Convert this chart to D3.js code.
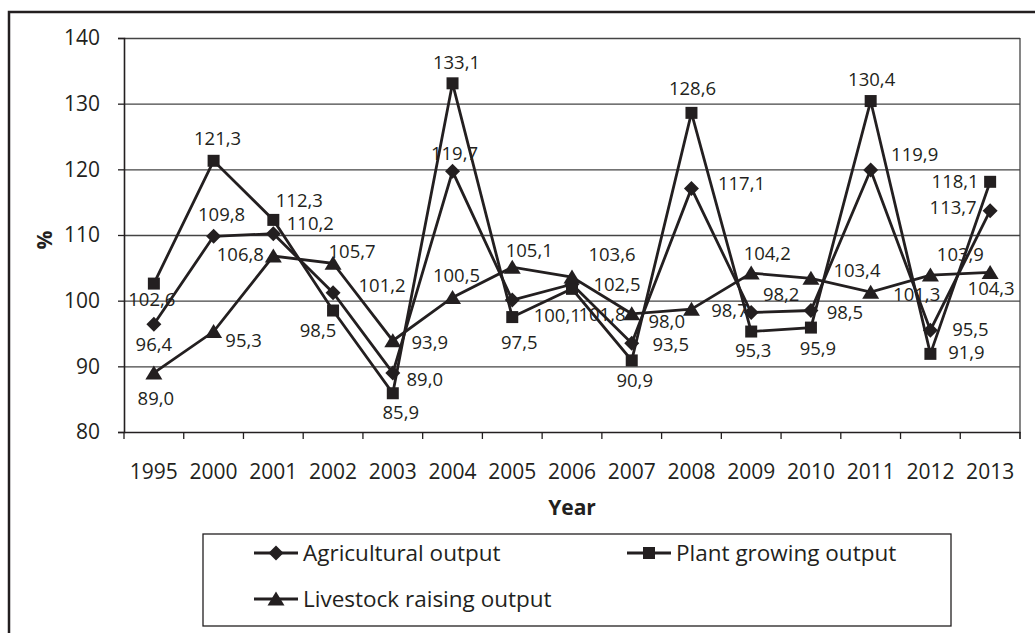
<!DOCTYPE html>
<html><head><meta charset="utf-8">
<script src="https://cdn.jsdelivr.net/npm/d3@7"></script>
<style>
body{margin:0;background:#fff;}
svg text{font-family:"Open Sans",sans-serif;fill:#231f20;}
</style></head><body>
<svg id="chart" width="1035" height="633"></svg>
<script>
// ---- data ----
const years = ["1995","2000","2001","2002","2003","2004","2005","2006","2007","2008","2009","2010","2011","2012","2013"];
const agricultural = [96.4,109.8,110.2,101.2,89.0,119.7,100.1,102.5,93.5,117.1,98.2,98.5,119.9,95.5,113.7];
const plantGrowing = [102.6,121.3,112.3,98.5,85.9,133.1,97.5,101.8,90.9,128.6,95.3,95.9,130.4,91.9,118.1];
const livestock = [89.0,95.3,106.8,105.7,93.9,100.5,105.1,103.6,98.0,98.7,104.2,103.4,101.3,103.9,104.3];
const yTicks = [80,90,100,110,120,130,140];
const seriesNames = ["Agricultural output","Plant growing output","Livestock raising output"];

// ---- label placement (offset of label centre from its point) ----
const agriLabelPos = [[0,20],[8,-22],[37,-10],[49,-7],[32,6],[2,-18],[45,15],[45,0],[39,1],[50,-5],[30,-18],[34,2],[44,-16],[40,-1],[-37,-3]];
const plantLabelPos = [[-2,16],[4,-22],[26,-19],[-15,20],[8,19],[4,-21],[7,25],[30,26],[3,20],[1,-24],[2,19],[7,21],[1,-22],[36,-1],[-35,0]];
const liveLabelPos = [[2,25],[30,9],[-33,-2],[19,-12],[37,2],[4,-22],[17,-17],[40,-23],[35,8],[38,1],[16,-20],[46,-8],[46,2],[30,-21],[1,16]];

const ink = "#231f20";
const svg = d3.select("#chart");

// outer frame
svg.append("rect").attr("x",9).attr("y",12).attr("width",1040).attr("height",640)
  .attr("fill","none").attr("stroke",ink).attr("stroke-width",2.5);

const x = d3.scaleBand().domain(years).range([124,1020]);
const y = d3.scaleLinear().domain([80,140]).range([432,38]);

// gridlines
svg.append("g").attr("transform","translate(124,0)")
  .call(d3.axisLeft(y).tickValues(yTicks.slice(1)).tickSize(-(1020-124)).tickFormat(""))
  .call(g=>g.select(".domain").remove())
  .call(g=>g.selectAll("line").attr("stroke","#444").attr("stroke-width",1.3));

// right border of plot area
svg.append("line").attr("x1",x.range()[1]).attr("x2",x.range()[1]).attr("y1",y(140)).attr("y2",y(80)+7)
  .attr("stroke","#444").attr("stroke-width",1.3);

// y axis
svg.append("g").attr("transform","translate(124,0)")
  .call(d3.axisLeft(y).tickValues(yTicks).tickSize(6).tickPadding(18).tickFormat(d=>d))
  .call(g=>g.select(".domain").attr("stroke",ink).attr("stroke-width",1.6))
  .call(g=>g.selectAll("line").attr("stroke",ink).attr("stroke-width",1.3))
  .call(g=>g.selectAll("text").style("font-size","21px").attr("fill",ink));

// x axis
svg.append("g").attr("transform",`translate(0,${y(80)})`)
  .call(d3.axisBottom(x).tickSize(0).tickPadding(32))
  .call(g=>g.select(".domain").attr("stroke",ink).attr("stroke-width",1.6))
  .call(g=>g.selectAll("text").style("font-size","21px").attr("fill",ink));
const boundaries = years.map(d=>x(d)).concat([x.range()[1]]);
svg.append("g").selectAll("line").data(boundaries).join("line")
  .attr("x1",d=>d).attr("x2",d=>d).attr("y1",y(80)).attr("y2",y(80)+7)
  .attr("stroke",ink).attr("stroke-width",1.3);

// axis titles
svg.append("text").attr("x",(124+1020)/2).attr("y",515).attr("text-anchor","middle")
  .style("font-size","21px").style("font-weight","bold").text("Year");
svg.append("text").attr("transform","translate(52,240) rotate(-90)").attr("text-anchor","middle")
  .style("font-size","21px").style("font-weight","bold").text("%");

// symbols
const shapes = {
  diamond:"M0,-7.5L7.5,0L0,7.5L-7.5,0Z",
  square:"M-6,-6h12v12h-12Z",
  triangle:"M0,-7.5L8.5,6.5L-8.5,6.5Z"
};
const series = [
  {name:seriesNames[0], values:agricultural, shape:"diamond", labels:agriLabelPos},
  {name:seriesNames[1], values:plantGrowing, shape:"square", labels:plantLabelPos},
  {name:seriesNames[2], values:livestock, shape:"triangle", labels:liveLabelPos}
];
const cx = i => x(years[i]) + x.bandwidth()/2;
const line = d3.line().x((d,i)=>cx(i)).y(d=>y(d));
const fmt = v => v.toFixed(1).replace(".",",");

series.forEach(s=>{
  svg.append("path").attr("d",line(s.values)).attr("fill","none").attr("stroke",ink)
    .attr("stroke-width",2.8).attr("stroke-linejoin","miter");
});
series.forEach(s=>{
  svg.append("g").selectAll("path").data(s.values).join("path")
    .attr("d",shapes[s.shape]).attr("fill",ink)
    .attr("transform",(d,i)=>`translate(${cx(i)},${y(d)})`);
});
series.forEach(s=>{
  svg.append("g").selectAll("text").data(s.values).join("text")
    .attr("x",(d,i)=>cx(i)+s.labels[i][0])
    .attr("y",(d,i)=>y(d)+s.labels[i][1]+6.6)
    .attr("text-anchor","middle").style("font-size","18.5px")
    .text(d=>fmt(d));
});

// legend
svg.append("rect").attr("x",203).attr("y",534).attr("width",748).attr("height",92)
  .attr("fill","#fff").attr("stroke",ink).attr("stroke-width",1.3);
const legendItems = [
  {s:series[0], x:254, y:561},
  {s:series[1], x:627, y:561},
  {s:series[2], x:254, y:607}
];
legendItems.forEach(it=>{
  const g = svg.append("g");
  const my = it.y-8;
  g.append("line").attr("x1",it.x).attr("x2",it.x+44).attr("y1",my).attr("y2",my)
    .attr("stroke",ink).attr("stroke-width",2.8);
  g.append("path").attr("d",shapes[it.s.shape]).attr("fill",ink)
    .attr("transform",`translate(${it.x+22},${my})`);
  g.append("text").attr("x",it.x+49).attr("y",it.y).style("font-size","22.5px").text(it.s.name);
});
</script>
</body></html>
